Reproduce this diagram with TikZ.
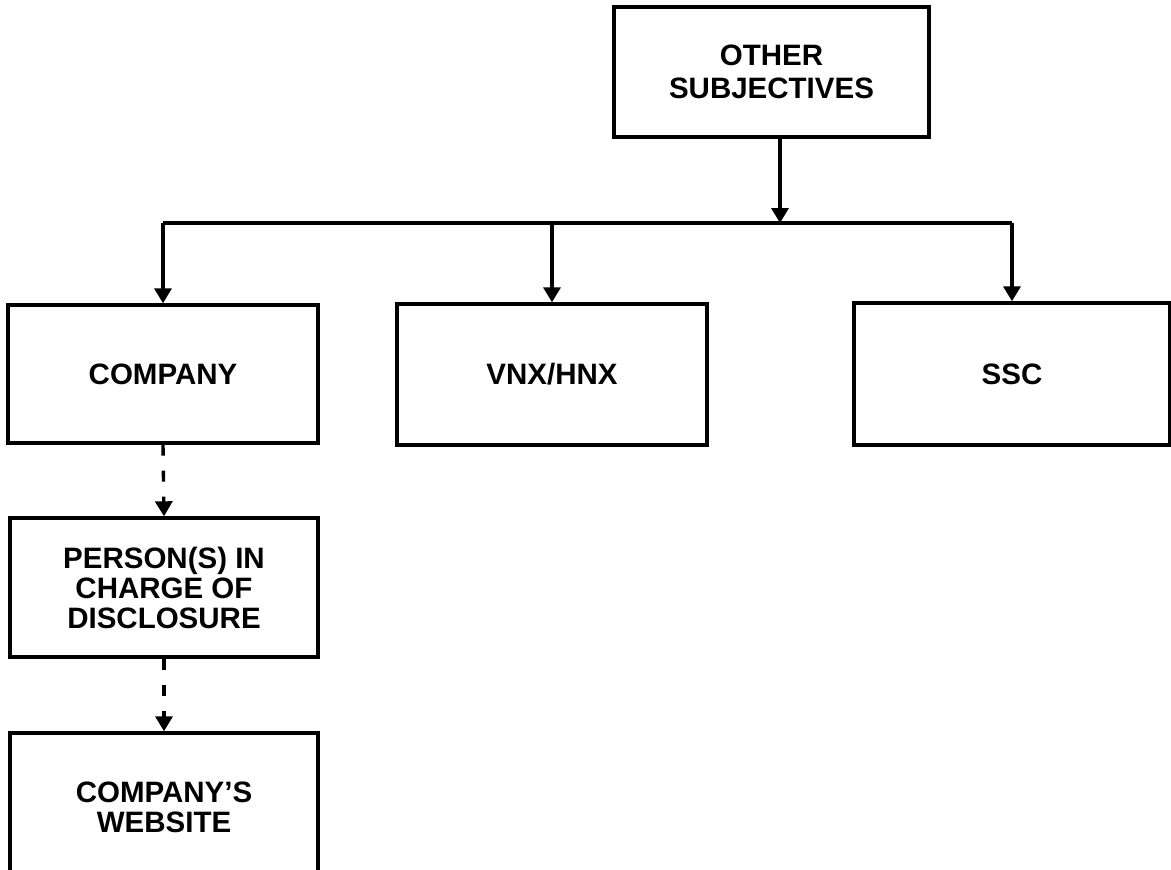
\documentclass[tikz,border=0pt]{standalone}
\usepackage{fontspec}
\setmainfont{Liberation Sans}
\usetikzlibrary{arrows.meta}
\begin{document}
\begin{tikzpicture}
   [x=1pt, y=-1pt,
   box/.style={draw, line width=3.4pt, inner sep=0pt, align=center,
     font=\bfseries\fontsize{29.5}{30}\selectfont},
   link/.style={-{Triangle[width=17pt,length=15pt]}, line width=3.4pt},
   dashlink/.style={link, dash pattern=on 11pt off 15pt}]
    \clip (0,0) rectangle (1171,870);
    \fill[white] (0,0) rectangle (1171,870);
    \node[box, minimum width=315pt, minimum height=130pt,
      font=\bfseries\fontsize{29.5}{33}\selectfont] (other) at (771.5,72) {OTHER\\SUBJECTIVES};
    \node[box, minimum width=310pt, minimum height=138pt] (company) at (163,374) {COMPANY};
    \node[box, minimum width=310pt, minimum height=141pt] (vnx) at (552,374.5) {VNX/HNX};
    \node[box, minimum width=316pt, minimum height=142pt] (ssc) at (1012,374) {SSC};
    \node[box, minimum width=308pt, minimum height=139pt] (person) at (164,587.5) {PERSON(S) IN\\CHARGE OF\\DISCLOSURE};
    \node[box, minimum width=308pt, minimum height=148pt] (website) at (164,807) {COMPANY’S\\WEBSITE};
    \coordinate (bus) at (780,223);
    \draw[line width=3.4pt] (company.north |- bus) -- (ssc.north |- bus);
    \draw[link] (other.south -| bus) -- (bus);
    \draw[link] (company.north |- bus) -- (company.north);
    \draw[link] (vnx.north |- bus) -- (vnx.north);
    \draw[link] (ssc.north |- bus) -- (ssc.north);
    \draw[dashlink] (company.south) -- (person.north);
    \draw[dashlink] (person.south) -- (website.north);
\end{tikzpicture}
\end{document}
